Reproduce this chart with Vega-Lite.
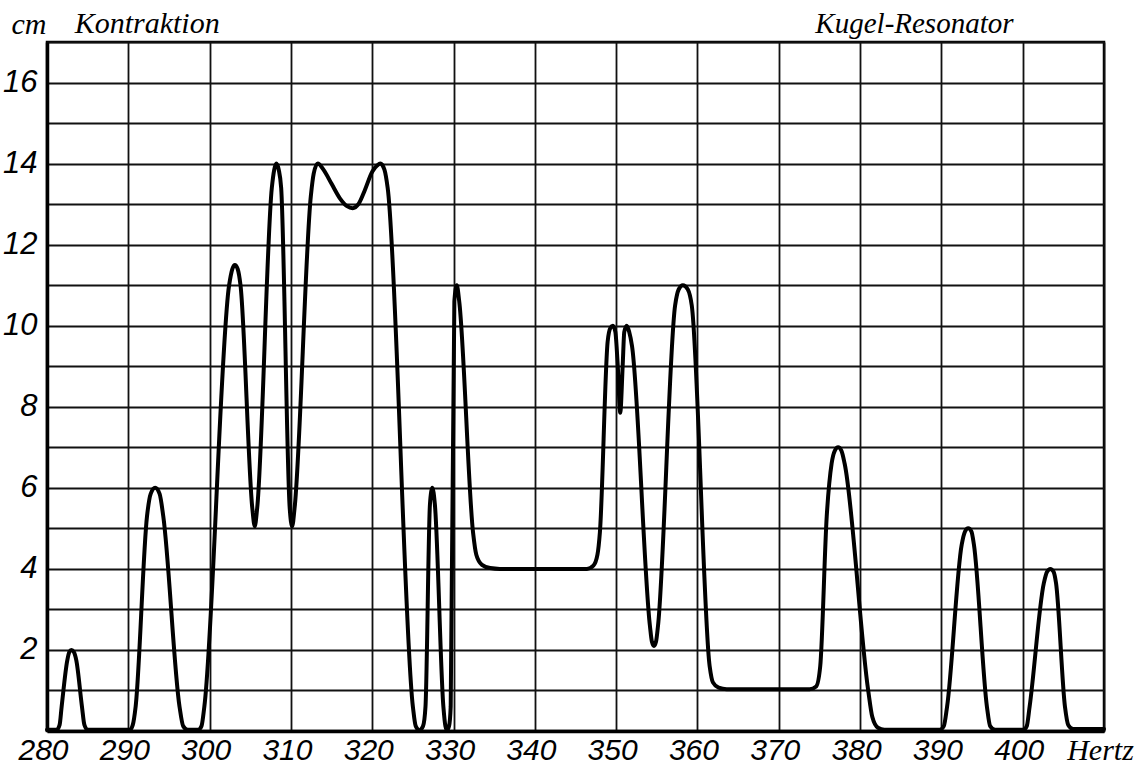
{
  "$schema": "https://vega.github.io/schema/vega-lite/v6.json",
  "width": 1057,
  "height": 689,
  "autosize": {"type": "none"},
  "padding": {"left": 47, "top": 42, "right": 34, "bottom": 34},
  "background": "white",
  "config": {
    "view": {"stroke": "black", "strokeWidth": 2.5}
  },
  "layer": [
    {
      "data": {
        "values": [
          {"hertz": 280, "cm": 0.03}, {"hertz": 281.2, "cm": 0.03}, {"hertz": 281.55, "cm": 0.15}, {"hertz": 281.8, "cm": 0.6},
          {"hertz": 282.5, "cm": 1.75}, {"hertz": 282.75, "cm": 1.95}, {"hertz": 283.0, "cm": 2.0}, {"hertz": 283.3, "cm": 1.95},
          {"hertz": 283.6, "cm": 1.75}, {"hertz": 284.3, "cm": 0.6}, {"hertz": 284.6, "cm": 0.15}, {"hertz": 285.0, "cm": 0.03},
          {"hertz": 290.2, "cm": 0.03}, {"hertz": 290.55, "cm": 0.15}, {"hertz": 290.9, "cm": 0.6}, {"hertz": 292.3, "cm": 5.3},
          {"hertz": 292.75, "cm": 5.85}, {"hertz": 293.3, "cm": 6.0}, {"hertz": 293.85, "cm": 5.85}, {"hertz": 294.3, "cm": 5.3},
          {"hertz": 296.3, "cm": 0.6}, {"hertz": 296.75, "cm": 0.12}, {"hertz": 297.3, "cm": 0.03}, {"hertz": 298.6, "cm": 0.03},
          {"hertz": 299.0, "cm": 0.12}, {"hertz": 299.35, "cm": 0.6}, {"hertz": 302.4, "cm": 11.0}, {"hertz": 302.8, "cm": 11.4},
          {"hertz": 303.1, "cm": 11.5}, {"hertz": 303.45, "cm": 11.4}, {"hertz": 303.8, "cm": 11.0}, {"hertz": 305.25, "cm": 5.5},
          {"hertz": 305.55, "cm": 5.05}, {"hertz": 305.85, "cm": 5.5}, {"hertz": 307.65, "cm": 13.4}, {"hertz": 307.95, "cm": 13.85},
          {"hertz": 308.2, "cm": 14.0}, {"hertz": 308.5, "cm": 13.85}, {"hertz": 308.8, "cm": 13.4}, {"hertz": 309.85, "cm": 5.5},
          {"hertz": 310.15, "cm": 5.05}, {"hertz": 310.45, "cm": 5.5}, {"hertz": 312.45, "cm": 13.2}, {"hertz": 312.8, "cm": 13.75},
          {"hertz": 313.3, "cm": 14.0}, {"hertz": 314.0, "cm": 13.85}, {"hertz": 315.0, "cm": 13.5}, {"hertz": 316.0, "cm": 13.15},
          {"hertz": 316.9, "cm": 12.95}, {"hertz": 317.6, "cm": 12.9}, {"hertz": 318.3, "cm": 13.0}, {"hertz": 319.1, "cm": 13.35},
          {"hertz": 320.0, "cm": 13.8}, {"hertz": 320.6, "cm": 13.95}, {"hertz": 321.0, "cm": 14.0}, {"hertz": 321.5, "cm": 13.85},
          {"hertz": 321.9, "cm": 13.4}, {"hertz": 325.0, "cm": 0.6}, {"hertz": 325.35, "cm": 0.12}, {"hertz": 325.8, "cm": 0.02},
          {"hertz": 326.25, "cm": 0.12}, {"hertz": 326.55, "cm": 0.6}, {"hertz": 327.1, "cm": 5.6}, {"hertz": 327.4, "cm": 6.0},
          {"hertz": 327.7, "cm": 5.6}, {"hertz": 328.75, "cm": 0.6}, {"hertz": 329.0, "cm": 0.12}, {"hertz": 329.2, "cm": 0.02},
          {"hertz": 329.45, "cm": 0.12}, {"hertz": 329.65, "cm": 0.6}, {"hertz": 330.1, "cm": 10.6}, {"hertz": 330.4, "cm": 11.0},
          {"hertz": 330.7, "cm": 10.6}, {"hertz": 332.4, "cm": 4.9}, {"hertz": 332.8, "cm": 4.35}, {"hertz": 333.5, "cm": 4.1},
          {"hertz": 334.5, "cm": 4.02}, {"hertz": 335.7, "cm": 4.0}, {"hertz": 346.4, "cm": 4.0}, {"hertz": 347.2, "cm": 4.08},
          {"hertz": 347.7, "cm": 4.35}, {"hertz": 348.0, "cm": 4.9}, {"hertz": 348.95, "cm": 9.6}, {"hertz": 349.3, "cm": 9.95},
          {"hertz": 349.6, "cm": 10.0}, {"hertz": 349.9, "cm": 9.85}, {"hertz": 350.2, "cm": 9.0}, {"hertz": 350.5, "cm": 7.85},
          {"hertz": 350.8, "cm": 9.0}, {"hertz": 351.0, "cm": 9.85}, {"hertz": 351.3, "cm": 10.0}, {"hertz": 351.6, "cm": 9.85},
          {"hertz": 351.95, "cm": 9.5}, {"hertz": 354.15, "cm": 2.6}, {"hertz": 354.4, "cm": 2.2}, {"hertz": 354.65, "cm": 2.1},
          {"hertz": 354.9, "cm": 2.2}, {"hertz": 355.15, "cm": 2.6}, {"hertz": 357.25, "cm": 10.5}, {"hertz": 357.7, "cm": 10.9},
          {"hertz": 358.2, "cm": 11.0}, {"hertz": 358.8, "cm": 10.9}, {"hertz": 359.3, "cm": 10.5}, {"hertz": 361.5, "cm": 1.6},
          {"hertz": 361.9, "cm": 1.2}, {"hertz": 362.6, "cm": 1.07}, {"hertz": 363.6, "cm": 1.03}, {"hertz": 373.8, "cm": 1.03},
          {"hertz": 374.6, "cm": 1.1}, {"hertz": 375.1, "cm": 1.6}, {"hertz": 375.9, "cm": 5.3}, {"hertz": 376.5, "cm": 6.6},
          {"hertz": 376.9, "cm": 6.92}, {"hertz": 377.3, "cm": 7.0}, {"hertz": 377.7, "cm": 6.92}, {"hertz": 378.1, "cm": 6.6},
          {"hertz": 381.0, "cm": 1.0}, {"hertz": 381.5, "cm": 0.35}, {"hertz": 382.2, "cm": 0.08}, {"hertz": 383.0, "cm": 0.03},
          {"hertz": 389.8, "cm": 0.03}, {"hertz": 390.3, "cm": 0.12}, {"hertz": 390.7, "cm": 0.6}, {"hertz": 392.5, "cm": 4.6},
          {"hertz": 392.9, "cm": 4.92}, {"hertz": 393.3, "cm": 5.0}, {"hertz": 393.7, "cm": 4.92}, {"hertz": 394.0, "cm": 4.6},
          {"hertz": 395.6, "cm": 0.6}, {"hertz": 396.0, "cm": 0.12}, {"hertz": 396.6, "cm": 0.03}, {"hertz": 400.1, "cm": 0.03},
          {"hertz": 400.5, "cm": 0.12}, {"hertz": 400.85, "cm": 0.6}, {"hertz": 402.6, "cm": 3.65}, {"hertz": 403.0, "cm": 3.93},
          {"hertz": 403.4, "cm": 4.0}, {"hertz": 403.8, "cm": 3.93}, {"hertz": 404.1, "cm": 3.65}, {"hertz": 405.2, "cm": 0.6},
          {"hertz": 405.6, "cm": 0.15}, {"hertz": 406.2, "cm": 0.05}, {"hertz": 410, "cm": 0.05}
        ]
      },
      "mark": {"type": "line", "interpolate": "monotone", "color": "black", "strokeWidth": 4, "strokeCap": "round", "strokeJoin": "round"},
      "encoding": {
        "x": {
          "field": "hertz", "type": "quantitative",
          "scale": {"domain": [280, 410], "nice": false, "zero": false},
          "axis": {
            "values": [280, 290, 300, 310, 320, 330, 340, 350, 360, 370, 380, 390, 400, 410],
            "labelExpr": "datum.value == 410 ? 'Hertz' : datum.label",
            "title": null,
            "ticks": false,
            "grid": true, "gridColor": "#111", "gridWidth": 1.8, "gridOpacity": 1,
            "domain": true, "domainColor": "black", "domainWidth": 3.5,
            "labelFont": {"condition": {"test": "datum.value == 410", "value": "Liberation Serif"}, "value": "Liberation Sans"},
            "labelFontSize": 30,
            "labelFontStyle": "italic",
            "labelColor": "black",
            "labelPadding": 4,
            "labelOffset": -4,
            "labelFlush": false,
            "labelOverlap": false,
            "labelBound": false
          }
        },
        "y": {
          "field": "cm", "type": "quantitative",
          "scale": {"domain": [0, 17], "nice": false, "zero": true},
          "axis": {
            "values": [0, 1, 2, 3, 4, 5, 6, 7, 8, 9, 10, 11, 12, 13, 14, 15, 16, 17],
            "labelExpr": "(datum.value % 2 == 0 && datum.value > 0) ? datum.label : ''",
            "title": "cm",
            "titleAngle": 0,
            "titleAlign": "left",
            "titleBaseline": "alphabetic",
            "titleX": -36,
            "titleY": -9,
            "titleFont": "Liberation Serif",
            "titleFontStyle": "italic",
            "titleFontWeight": "normal",
            "titleFontSize": 30,
            "titleColor": "black",
            "ticks": false,
            "grid": true, "gridColor": "#111", "gridWidth": 1.8, "gridOpacity": 1,
            "domain": true, "domainColor": "black", "domainWidth": 3.5,
            "labelFont": "Liberation Sans",
            "labelFontSize": 31,
            "labelFontStyle": "italic",
            "labelColor": "black",
            "labelPadding": 10,
            "labelOverlap": false,
            "labelFlush": false,
            "labelBound": false
          }
        }
      }
    },
    {
      "data": {"values": [{"t": "Kontraktion"}]},
      "mark": {"type": "text", "font": "Liberation Serif", "fontStyle": "italic", "fontSize": 30, "align": "left", "baseline": "alphabetic", "dy": -9, "color": "black"},
      "encoding": {
        "x": {"datum": 283.4, "type": "quantitative"},
        "y": {"datum": 17, "type": "quantitative"},
        "text": {"field": "t", "type": "nominal"}
      }
    },
    {
      "data": {"values": [{"t": "Kugel-Resonator"}]},
      "mark": {"type": "text", "font": "Liberation Serif", "fontStyle": "italic", "fontSize": 29, "align": "left", "baseline": "alphabetic", "dy": -9, "color": "black"},
      "encoding": {
        "x": {"datum": 374.5, "type": "quantitative"},
        "y": {"datum": 17, "type": "quantitative"},
        "text": {"field": "t", "type": "nominal"}
      }
    }
  ]
}
